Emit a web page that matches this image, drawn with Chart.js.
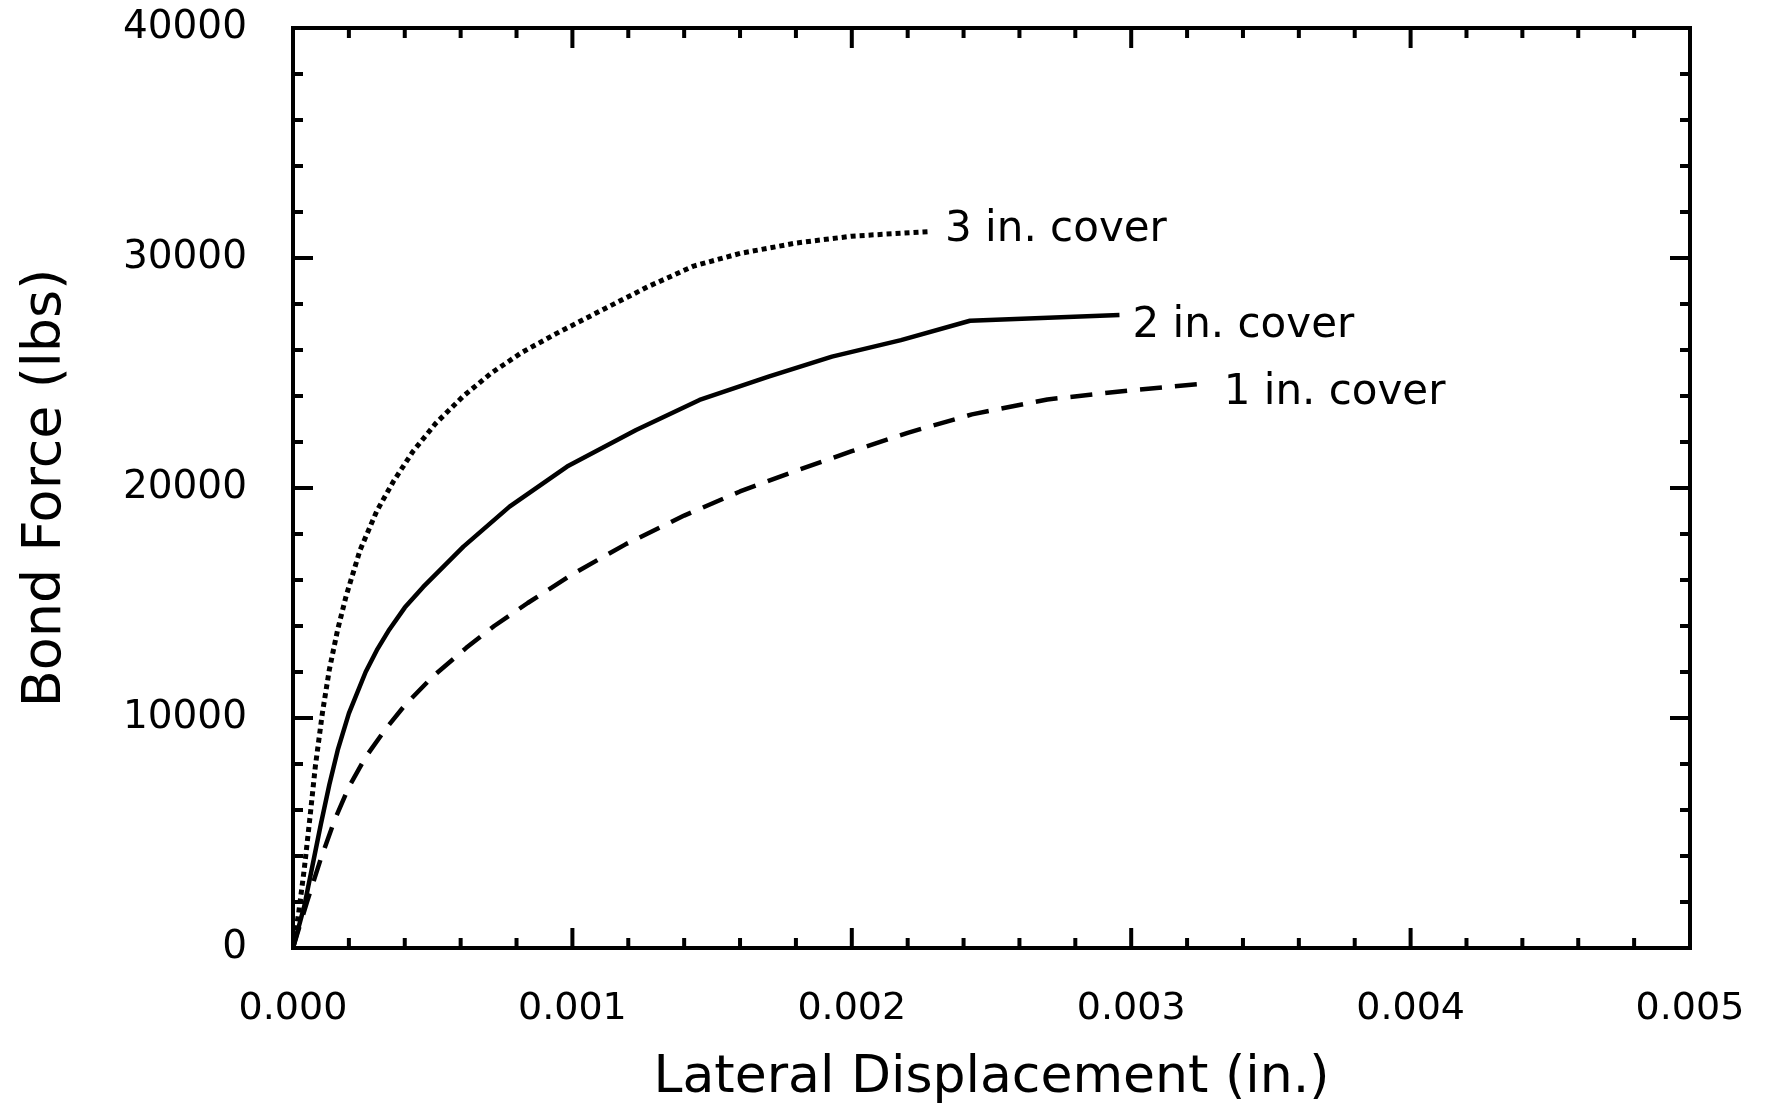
<!DOCTYPE html>
<html>
<head>
<meta charset="utf-8">
<title>Bond Force vs Lateral Displacement</title>
<script src="https://cdn.jsdelivr.net/npm/chart.js@4/dist/chart.umd.min.js"></script>
<style>
  html, body { margin: 0; padding: 0; background: #ffffff; }
  #wrap { width: 1769px; height: 1110px; }
</style>
</head>
<body>
<div id="wrap"><canvas id="chart" width="1769" height="1110"></canvas></div>
<script>
// ---- data: lateral displacement (in.) and bond force (lbs) for each cover depth ----
const seriesNames = ['1 in. cover', '2 in. cover', '3 in. cover'];

const displacement1in = [0, 0.00005, 0.0001, 0.00015, 0.0002, 0.00026, 0.00033, 0.0004,
  0.0005, 0.00062, 0.00072, 0.00084, 0.001, 0.00119, 0.0014, 0.0016, 0.0018,
  0.002, 0.0022, 0.00243, 0.0027, 0.003, 0.00327];
const force1in = [0, 2000, 3900, 5600, 7000, 8300, 9500, 10550,
  11800, 13050, 14000, 15000, 16250, 17550, 18800, 19850, 20750,
  21600, 22400, 23200, 23850, 24250, 24550];

const displacement2in = [0, 0.00004, 0.00007, 0.0001, 0.00013, 0.00016, 0.0002, 0.00026,
  0.0003, 0.000345, 0.0004, 0.000466, 0.00061, 0.000775, 0.000981, 0.001228, 0.001455,
  0.001702, 0.001929, 0.002176, 0.002423, 0.002958];
const force2in = [0, 1800, 3600, 5400, 7100, 8600, 10200, 12000,
  12950, 13850, 14800, 15700, 17450, 19190, 20930, 22520, 23830,
  24840, 25710, 26430, 27270, 27520];

const displacement3in = [0, 0.00002, 0.00004, 0.00006, 0.00008, 0.000105, 0.00013, 0.00016,
  0.00019, 0.00024, 0.0003, 0.00036, 0.00043, 0.00051, 0.00061, 0.00071, 0.00082, 0.00094,
  0.0011, 0.00127, 0.001434, 0.0016, 0.0018, 0.002, 0.00228];
const force3in = [0, 1500, 3400, 5600, 7900, 10200, 12100, 13850,
  15300, 17300, 19000, 20300, 21600, 22800, 24000, 25000, 25900, 26700,
  27700, 28750, 29650, 30200, 30650, 30950, 31150];

// axis ranges and tick steps
const xMin = 0, xMax = 0.005, xMajorStep = 0.001, xMinorPerMajor = 5;
const yMin = 0, yMax = 40000, yMajorStep = 10000, yMinorPerMajor = 5;

// ---- styling ----
const FONT = "'DejaVu Sans', 'Liberation Sans', sans-serif";
const INK = '#000000';
const lineStyles = [
  { borderDash: [22, 13], borderWidth: 4.5 },   // 1 in. cover
  { borderDash: [],       borderWidth: 4.5 },   // 2 in. cover
  { borderDash: [5, 4],   borderWidth: 5 }      // 3 in. cover
];
const labelOffsets = [ { dx: 17, dy: 10 }, { dx: 13, dy: 11 }, { dx: 15, dy: -1 } ];

function toPoints(xs, ys) {
  return xs.map((x, i) => ({ x: x, y: ys[i] }));
}

const seriesData = [
  toPoints(displacement1in, force1in),
  toPoints(displacement2in, force2in),
  toPoints(displacement3in, force3in)
];

// frame and inward tick marks on all four sides
const frameTicks = {
  id: 'frameTicks',
  afterDatasetsDraw(chart) {
    const { ctx, chartArea: a, scales: { x, y } } = chart;
    ctx.save();
    ctx.strokeStyle = INK;
    ctx.lineWidth = 4;
    ctx.lineCap = 'butt';
    const majorLen = 20, minorLen = 10;
    const nx = Math.round((xMax - xMin) / xMajorStep) * xMinorPerMajor;
    for (let i = 0; i <= nx; i++) {
      const v = xMin + i * xMajorStep / xMinorPerMajor;
      const px = x.getPixelForValue(v);
      const len = (i % xMinorPerMajor === 0) ? majorLen : minorLen;
      ctx.beginPath();
      ctx.moveTo(px, a.bottom); ctx.lineTo(px, a.bottom - len);
      ctx.moveTo(px, a.top); ctx.lineTo(px, a.top + len);
      ctx.stroke();
    }
    const ny = Math.round((yMax - yMin) / yMajorStep) * yMinorPerMajor;
    for (let i = 0; i <= ny; i++) {
      const v = yMin + i * yMajorStep / yMinorPerMajor;
      const py = y.getPixelForValue(v);
      const len = (i % yMinorPerMajor === 0) ? majorLen : minorLen;
      ctx.beginPath();
      ctx.moveTo(a.left, py); ctx.lineTo(a.left + len, py);
      ctx.moveTo(a.right, py); ctx.lineTo(a.right - len, py);
      ctx.stroke();
    }
    ctx.strokeRect(a.left, a.top, a.right - a.left, a.bottom - a.top);
    ctx.restore();
  }
};

// curve names written just past the end of each curve
const endLabels = {
  id: 'endLabels',
  afterDatasetsDraw(chart) {
    const { ctx } = chart;
    ctx.save();
    ctx.fillStyle = INK;
    ctx.font = '42px ' + FONT;
    ctx.textAlign = 'left';
    ctx.textBaseline = 'middle';
    chart.data.datasets.forEach((ds, i) => {
      const meta = chart.getDatasetMeta(i);
      const last = meta.data[meta.data.length - 1];
      const off = labelOffsets[i];
      ctx.fillText(ds.label, last.x + off.dx, last.y + off.dy);
    });
    ctx.restore();
  }
};

new Chart(document.getElementById('chart'), {
  type: 'scatter',
  data: {
    datasets: seriesNames.map((name, i) => ({
      label: name,
      data: seriesData[i],
      showLine: true,
      borderColor: INK,
      backgroundColor: INK,
      borderWidth: lineStyles[i].borderWidth,
      borderDash: lineStyles[i].borderDash,
      borderCapStyle: 'butt',
      borderJoinStyle: 'round',
      pointRadius: 0,
      pointHoverRadius: 0,
      tension: 0
    }))
  },
  options: {
    responsive: false,
    animation: false,
    devicePixelRatio: 1,
    layout: { padding: { left: 0, top: 28, right: 79, bottom: 0 } },
    plugins: {
      legend: { display: false },
      tooltip: { enabled: false }
    },
    scales: {
      x: {
        type: 'linear',
        min: xMin,
        max: xMax,
        grid: { display: false },
        border: { display: false },
        ticks: {
          stepSize: xMajorStep,
          autoSkip: false,
          maxRotation: 0,
          padding: 30,
          color: INK,
          font: { family: FONT, size: 38 },
          callback: v => Number(v).toFixed(3)
        },
        title: {
          display: true,
          text: 'Lateral Displacement (in.)',
          color: INK,
          font: { family: FONT, size: 52 },
          padding: { top: 0, bottom: 0 }
        },
        afterFit: s => {
          s.height = 162;
          s.paddingLeft = 0; s.paddingRight = 0;
          s.paddingTop = 0; s.paddingBottom = 0;
        }
      },
      y: {
        type: 'linear',
        min: yMin,
        max: yMax,
        grid: { display: false },
        border: { display: false },
        ticks: {
          stepSize: yMajorStep,
          autoSkip: false,
          padding: 38,
          color: INK,
          font: { family: FONT, size: 39 },
          callback: v => String(v)
        },
        title: {
          display: true,
          text: 'Bond Force (lbs)',
          color: INK,
          font: { family: FONT, size: 54 },
          padding: { top: 14, bottom: 0 }
        },
        afterFit: s => {
          s.width = 293;
          s.paddingTop = 0; s.paddingBottom = 0;
          s.paddingLeft = 0; s.paddingRight = 0;
        }
      }
    }
  },
  plugins: [frameTicks, endLabels]
});
</script>
</body>
</html>
